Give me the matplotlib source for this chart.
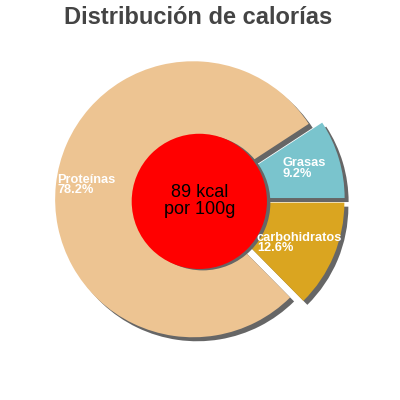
import numpy as np
import matplotlib.pyplot as plt
from matplotlib.patches import Circle

plt.rcParams['font.family'] = ['Liberation Sans', 'DejaVu Sans']

# data (order: counterclockwise from 0 degrees)
labels = ['Grasas', 'Proteínas', 'carbohidratos']
values = [9.2, 78.2, 12.6]
colors = ['#7AC4CD', '#EDC492', '#DAA520']
kcal_text = '89 kcal\npor 100g'
title = 'Distribución de calorías'

px = 138.0  # pixels per pie radius
fig = plt.figure(figsize=(4, 4), dpi=100)
ax = fig.add_axes([0, 0, 1, 1])

explode = [0.05] * len(values)
sh = 4 / px

# shadow first
ax.pie(values, explode=explode, startangle=0, counterclock=True,
       colors=['#666666'] * len(values), center=(sh, -sh), radius=1,
       wedgeprops=dict(linewidth=0), frame=True)
ax.pie(values, explode=explode, startangle=0, counterclock=True,
       colors=colors, center=(0, 0), radius=1,
       wedgeprops=dict(linewidth=0), frame=True)
ax.set_xlim(-200 / px, 200 / px)
ax.set_ylim(-200 / px, 200 / px)
ax.set_aspect('equal')
ax.axis('off')

# center disc
ax.add_patch(Circle((0.02, -0.02), 0.49, color='#666666', lw=0, zorder=5))
ax.add_patch(Circle((-0.005, -0.01), 0.49, color='#FF0000', lw=0, zorder=6))
ax.text(0, -0.005, kcal_text, ha='center', va='center', fontsize=13,
        color='black', linespacing=1.0, zorder=7)

# slice labels
label_pos = {'Proteínas': (-1.036, 0.19), 'Grasas': (0.601, 0.31),
             'carbohidratos': (0.413, -0.23)}
total = sum(values)
for lab, v in zip(labels, values):
    x, y = label_pos[lab]
    ax.text(x, y, f'{lab}\n{v / total * 100:.1f}%', ha='left', va='top',
            fontsize=9.2, fontweight='bold', color='white',
            linespacing=0.85, zorder=8)

fig.text(0.495, 0.955, title, ha='center', va='center', fontsize=17,
         fontweight='bold', color='#444444')

fig.savefig('out.png', dpi=100)
